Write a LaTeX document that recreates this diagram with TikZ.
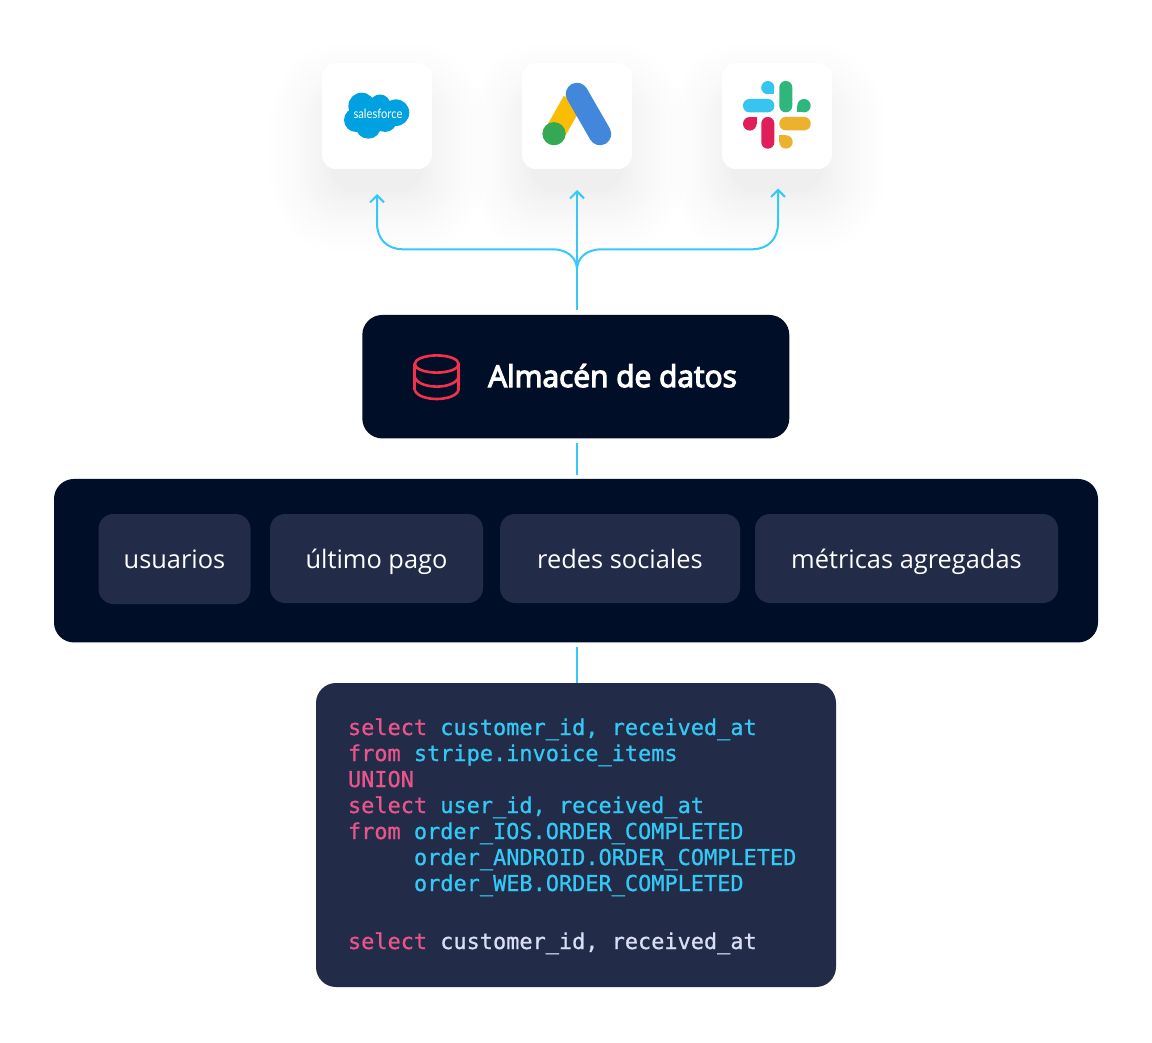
\documentclass[tikz,border=0pt]{standalone}
\usepackage{fontspec}
\usetikzlibrary{arrows.meta}
\setmainfont{Open Sans}
\newfontfamily\titlefont{Open Sans}[FakeBold=4]
\newfontfamily\pillfont{Open Sans}
\newfontfamily\brandfont{Lato}[FakeStretch=0.86]
\newfontfamily\codefont{DejaVu Sans Mono}[FakeBold=0.8]
\definecolor{navy}{HTML}{000F27}
\definecolor{slate}{HTML}{222B47}
\definecolor{sky}{HTML}{35C8F8}
\definecolor{coral}{HTML}{F5304A}
\definecolor{pinkcode}{HTML}{E8558A}
\definecolor{bluecode}{HTML}{33C8F6}
\definecolor{palecode}{HTML}{D9DFF5}
\definecolor{sfblue}{HTML}{00A1E0}
\definecolor{adsblue}{HTML}{4287DC}
\definecolor{adsyellow}{HTML}{FBBC04}
\definecolor{adsgreen}{HTML}{34A853}
\definecolor{slcyan}{HTML}{36C5F0}
\definecolor{slgreen}{HTML}{2EB67D}
\definecolor{slred}{HTML}{E01E5A}
\definecolor{slyellow}{HTML}{ECB22E}
\tikzset{
  x=1pt,y=-1pt,
  box/.style={rectangle,inner sep=0pt,outer sep=0pt,rounded corners=#1},
  card/.style={box=14pt,fill=white,minimum width=110pt,minimum height=106pt},
  dark/.style={box=20pt,fill=navy},
  pill/.style={box=15pt,fill=slate,text=white,text height=24pt,text depth=5pt,font=\pillfont\fontsize{25.4}{28}\selectfont},
  link/.style={draw=sky,line width=2pt},
  tipped/.style={link,-{Straight Barb[length=7pt,width=14pt,line width=2pt]}},
  codeline/.style={anchor=base west,inner sep=0pt,outer sep=0pt,font=\codefont\fontsize{21.9}{26}\selectfont},
  dbline/.style={draw=coral,line width=2.6pt},
}
\newcommand{\softshadow}[2]{%
  \foreach \i in {1,...,16}{%
    \pgfmathsetmacro{\r}{-10+62*pow(\i/16,1.6)}%
    \pgfmathsetmacro{\cr}{24+max(\r,0)}%
    \fill[fill=slate,opacity=0.0035,rounded corners=\cr pt]
      (#1-55-\r,#2-53-\r+32) rectangle (#1+55+\r,#2+53+\r+32);
  }%
}
\begin{document}
\begin{tikzpicture}
\useasboundingbox (0,0) rectangle (1152,1043);
\fill[white] (0,0) rectangle (1152,1043);

% shadows
\softshadow{377}{116}
\softshadow{577}{116}
\softshadow{777}{116}

% cards
\node[card] (cardSF) at (377,116) {};
\node[card] (cardAds) at (577,116) {};
\node[card] (cardSlack) at (777,116) {};

% salesforce
\fill[sfblue] (361.7,106) circle (13.3) (380,105) circle (10.5) (396,112.7) circle (13.3)
  (356,120) circle (12) (368.3,126) circle (12.7) (385,120) circle (12) (375,113) circle (14);
\node[text=white,inner sep=0pt,font=\brandfont\fontsize{13}{13}\selectfont] (sfText) at (378,113.5) {salesforce};

% google ads
\draw[adsyellow,line width=21pt] (573,101) -- (554.5,133.5);
\draw[adsblue,line width=22.5pt,line cap=round] (577,94) -- (600,134);
\fill[adsgreen] (554,133.7) circle (11.6);

% slack
\fill[slcyan,rounded corners=6.4pt] (743,99) rectangle (774.3,112.3);
\fill[slcyan] (767.8,87.6) circle (6.6);
\fill[slcyan] (767.8,87.6) rectangle (774.3,94.2);
\fill[slgreen,rounded corners=6.4pt] (779.3,81) rectangle (792.3,112.3);
\fill[slgreen] (804,105.7) circle (6.7);
\fill[slgreen] (797.3,105.7) rectangle (804,112.3);
\fill[slred,rounded corners=6.4pt] (761.3,117) rectangle (774.3,148.7);
\fill[slred] (749.8,123.8) circle (6.8);
\fill[slred] (749.8,117) rectangle (756.6,123.8);
\fill[slyellow,rounded corners=6.4pt] (779.3,117) rectangle (810.7,130.3);
\fill[slyellow] (786,142) circle (6.7);
\fill[slyellow] (779.3,135.3) rectangle (786,142);

% main boxes
\node[dark,minimum width=427pt,minimum height=123.5pt] (db) at (575.8,376.7) {};
\node[dark,minimum width=1044pt,minimum height=163.5pt] (panel) at (576,560.7) {};
\node[box=20pt,fill=slate,minimum width=520pt,minimum height=304pt] (code) at (576,835) {};

% db icon
\draw[dbline] (436.7,364) ellipse [x radius=22,y radius=8.6];
\draw[dbline] (414.7,364) -- (414.7,390);
\draw[dbline] (458.7,364) -- (458.7,390);
\draw[dbline] (414.7,377) .. controls (417,384) and (428,386.6) .. (436.7,386.6) .. controls (445.4,386.6) and (456.4,384) .. (458.7,377);
\draw[dbline] (414.7,390) .. controls (417,396.5) and (428,399) .. (436.7,399) .. controls (445.4,399) and (456.4,396.5) .. (458.7,390);
\node[anchor=base west,inner sep=0pt,text=white,font=\titlefont\fontsize{29.9}{34}\selectfont] (dbLabel) at (488,387) {Almacén de datos};

% pills
\node[pill,minimum width=152pt,minimum height=90pt] (p1) at (174.5,559) {usuarios};
\node[pill,minimum width=213pt,minimum height=89pt] (p2) at (376.5,558.5) {último pago};
\node[pill,minimum width=240pt,minimum height=89pt] (p3) at (620,558.5) {redes sociales};
\node[pill,minimum width=303pt,minimum height=89pt] (p4) at (906.5,558.5) {métricas agregadas};

% code
\node[codeline] (c1) at (348,735) {\textcolor{pinkcode}{select} \textcolor{bluecode}{customer\_id, received\_at}};
\node[codeline] (c2) at (348,761) {\textcolor{pinkcode}{from} \textcolor{bluecode}{stripe.invoice\_items}};
\node[codeline] (c3) at (348,787) {\textcolor{pinkcode}{UNION}};
\node[codeline] (c4) at (348,813) {\textcolor{pinkcode}{select} \textcolor{bluecode}{user\_id, received\_at}};
\node[codeline] (c5) at (348,839) {\textcolor{pinkcode}{from} \textcolor{bluecode}{order\_IOS.ORDER\_COMPLETED}};
\node[codeline,text=bluecode] (c6) at (414,865) {order\_ANDROID.ORDER\_COMPLETED};
\node[codeline,text=bluecode] (c7) at (414,891) {order\_WEB.ORDER\_COMPLETED};
\node[codeline] (c8) at (348,949) {\textcolor{pinkcode}{select} \textcolor{palecode}{customer\_id, received\_at}};

% connectors
\coordinate (stemFoot) at (577,310);
\coordinate (fork) at (577,270);
\coordinate (tipL) at (377,194);
\coordinate (tipC) at (577,190);
\coordinate (tipR) at (778,188.5);
\draw[tipped] (stemFoot) -- (tipC);
\draw[tipped] (fork) .. controls (577,258) and (568,249.3) .. (552,249.3) -- (403,249.3)
  .. controls (387,249.3) and (377,239) .. (377,223) -- (tipL);
\draw[tipped] (fork) .. controls (577,258) and (586,249.3) .. (602,249.3) -- (752,249.3)
  .. controls (768,249.3) and (778,239) .. (778,223) -- (tipR);
\coordinate (dbFoot) at (577,443);
\coordinate (panelHead) at (577,475);
\draw[link] (dbFoot) -- (panelHead);
\coordinate (panelFoot) at (577,647);
\coordinate (codeHead) at (577,683);
\draw[link] (panelFoot) -- (codeHead);
\end{tikzpicture}
\end{document}
